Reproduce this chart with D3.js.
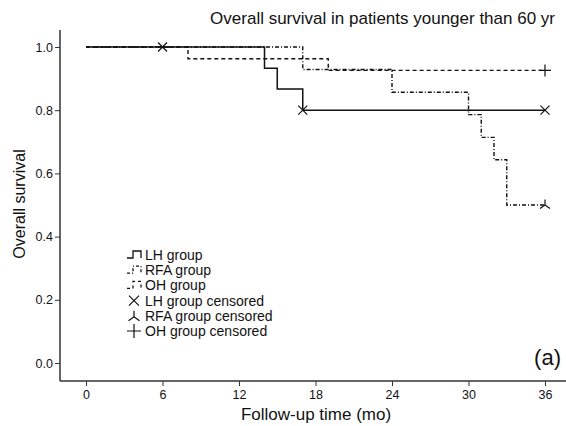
<!DOCTYPE html>
<html>
<head>
<meta charset="utf-8">
<script src="https://cdn.jsdelivr.net/npm/d3@7"></script>
<style>
  body { margin: 0; background: #fff; }
  text { font-family: "Liberation Sans", Arial, sans-serif; fill: #111; }
</style>
</head>
<body>
<svg width="566" height="426"></svg>
<script>
// Kaplan-Meier steps (time in months, survival)
const lhTime = [0, 14, 15, 17];
const lhSurv = [1, 0.933, 0.867, 0.8];
const rfaTime = [0, 17, 24, 30, 31, 32, 33];
const rfaSurv = [1, 0.929, 0.857, 0.786, 0.714, 0.643, 0.5];
const ohTime = [0, 8, 19];
const ohSurv = [1, 0.963, 0.926];

// censored points
const lhCensTime = [6, 17, 36];
const lhCensSurv = [1, 0.8, 0.8];
const rfaCensTime = [36];
const rfaCensSurv = [0.5];
const ohCensTime = [36];
const ohCensSurv = [0.926];

const xTicks = [0, 6, 12, 18, 24, 30, 36];
const yTicks = [0, 0.2, 0.4, 0.6, 0.8, 1.0];
const endTime = 36;

const legendItems = ["LH group", "RFA group", "OH group", "LH group censored", "RFA group censored", "OH group censored"];

const svg = d3.select("svg");
const ink = "#111";

const x = d3.scaleLinear().domain([0, 36]).range([86, 545]);
const y = d3.scaleLinear().domain([0, 1]).range([363, 47]);

// axes
const axisX0 = 60, axisY0 = 381;
svg.append("line").attr("x1", axisX0).attr("x2", 566).attr("y1", axisY0).attr("y2", axisY0)
  .attr("stroke", "#333").attr("stroke-width", 1.5);
svg.append("line").attr("x1", axisX0).attr("x2", axisX0).attr("y1", 30).attr("y2", axisY0)
  .attr("stroke", "#333").attr("stroke-width", 1.5);

const gx = svg.append("g").attr("transform", `translate(0,${axisY0})`)
  .call(d3.axisBottom(x).tickValues(xTicks).tickSize(5).tickPadding(4).tickFormat(d3.format("d")));
gx.select(".domain").remove();
gx.selectAll("text").attr("font-size", 12.5).attr("fill", ink).attr("font-family", "Liberation Sans, Arial, sans-serif");
gx.selectAll("line").attr("stroke", "#333");

const gy = svg.append("g").attr("transform", `translate(${axisX0},0)`)
  .call(d3.axisLeft(y).tickValues(yTicks).tickSize(5).tickPadding(2).tickFormat(d3.format(".1f")));
gy.select(".domain").remove();
gy.selectAll("text").attr("font-size", 12.5).attr("fill", ink).attr("font-family", "Liberation Sans, Arial, sans-serif");
gy.selectAll("line").attr("stroke", "#333");

// axis titles
svg.append("text").attr("x", 316).attr("y", 420).attr("text-anchor", "middle")
  .attr("font-size", 17).text("Follow-up time (mo)");
svg.append("text").attr("transform", "translate(25,204) rotate(-90)").attr("text-anchor", "middle")
  .attr("font-size", 16).text("Overall survival");
svg.append("text").attr("x", 555).attr("y", 24).attr("text-anchor", "end")
  .attr("font-size", 17).text("Overall survival in patients younger than 60 yr");
svg.append("text").attr("x", 561).attr("y", 365).attr("text-anchor", "end")
  .attr("font-size", 22).text("(a)");

// survival curves
const line = d3.line().x(d => x(d[0])).y(d => y(d[1])).curve(d3.curveStepAfter);
function steps(t, s) {
  const pts = t.map((v, i) => [v, s[i]]);
  pts.push([endTime, s[s.length - 1]]);
  return pts;
}
const dashRFA = "4,2,1,2";
const dashOH = "4,3";

svg.append("path").attr("d", line(steps(ohTime, ohSurv))).attr("fill", "none")
  .attr("stroke", ink).attr("stroke-width", 1.4).attr("stroke-dasharray", dashOH);
svg.append("path").attr("d", line(steps(rfaTime, rfaSurv))).attr("fill", "none")
  .attr("stroke", ink).attr("stroke-width", 1.4).attr("stroke-dasharray", dashRFA);
svg.append("path").attr("d", line(steps(lhTime, lhSurv))).attr("fill", "none")
  .attr("stroke", ink).attr("stroke-width", 1.5);

// censor marks
function markX(g, cx, cy, r) {
  g.append("path").attr("d", `M${cx - r},${cy - r}L${cx + r},${cy + r}M${cx - r},${cy + r}L${cx + r},${cy - r}`)
    .attr("stroke", ink).attr("stroke-width", 1.2).attr("fill", "none");
}
function markY(g, cx, cy, r) {
  g.append("path").attr("d", `M${cx},${cy}L${cx},${cy - r * 1.1}M${cx},${cy}L${cx - r},${cy + r * 0.7}M${cx},${cy}L${cx + r},${cy + r * 0.7}`)
    .attr("stroke", ink).attr("stroke-width", 1.2).attr("fill", "none");
}
function markPlus(g, cx, cy, r) {
  g.append("path").attr("d", `M${cx - r},${cy}L${cx + r},${cy}M${cx},${cy - r}L${cx},${cy + r}`)
    .attr("stroke", ink).attr("stroke-width", 1.2).attr("fill", "none");
}
lhCensTime.forEach((t, i) => markX(svg, x(t), y(lhCensSurv[i]), 4.5));
rfaCensTime.forEach((t, i) => markY(svg, x(t), y(rfaCensSurv[i]), 5));
ohCensTime.forEach((t, i) => markPlus(svg, x(t), y(ohCensSurv[i]), 6));

// legend
const lgX = 127, lgY = 255, lgStep = 15.2;
const lg = svg.append("g");
legendItems.forEach((name, i) => {
  const cy = lgY + i * lgStep;
  lg.append("text").attr("x", lgX + 18).attr("y", cy + 5).attr("font-size", 14).text(name);
  if (i < 3) {
    const d = `M${lgX},${cy + 3}L${lgX + 6},${cy + 3}L${lgX + 6},${cy - 4}L${lgX + 14},${cy - 4}L${lgX + 14},${cy + 3}`;
    lg.append("path").attr("d", d).attr("fill", "none").attr("stroke", ink).attr("stroke-width", 1.3)
      .attr("stroke-dasharray", i === 0 ? null : (i === 1 ? "3,2,1,2" : "3,3"));
  } else if (i === 3) {
    markX(lg, lgX + 7, cy, 5);
  } else if (i === 4) {
    markY(lg, lgX + 7, cy + 1, 5.5);
  } else {
    markPlus(lg, lgX + 7, cy, 7);
  }
});
</script>
</body>
</html>
